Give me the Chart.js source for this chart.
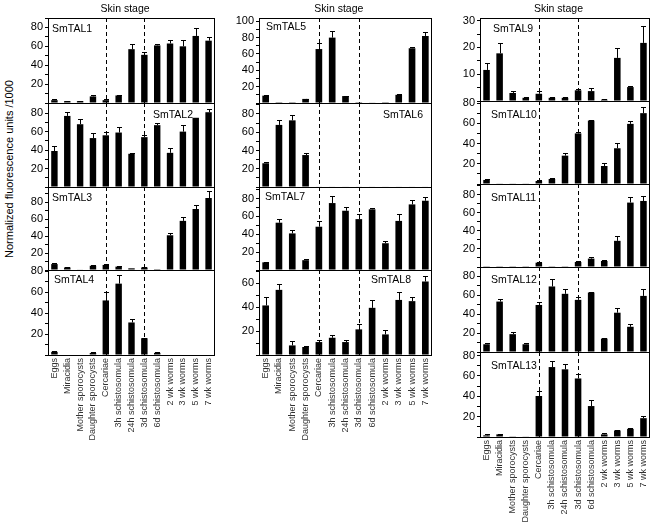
<!DOCTYPE html>
<html><head><meta charset="utf-8">
<script src="https://cdn.jsdelivr.net/npm/chart.js@4"></script>
<style>
html,body{margin:0;padding:0;background:#fff;}
#wrap{position:relative;width:655px;height:528px;overflow:hidden;background:#fff;}
#wrap canvas{position:absolute;}
#ytitle{position:absolute;left:-90px;top:162px;width:200px;height:14px;line-height:14px;text-align:center;
  font:11px "Liberation Sans",Arial,sans-serif;color:#000;transform:rotate(-90deg);transform-origin:100px 7px;white-space:nowrap;}
</style></head>
<body><div id="wrap"><div id="ytitle">Normalized fluorescence units /1000</div></div>
<script>
const categories = ['Eggs','Miracidia','Mother sporocysts','Daughter sporocysts','Cercariae','3h schistosomula','24h schistosomula','3d schistosomula','6d schistosomula','2 wk worms','3 wk worms','5 wk worms','7 wk worms'];
const skinStageTitle = 'Skin stage';
const skinStageBounds = [4, 7];

const smtal1 = [3,2,2,7,3,8,57,51,61,63,60,71,66];
const smtal1Err = [1,0.5,0.5,1,1,1,5,3,2,4,7,8,4];
const smtal2 = [39,77,68,53,56,59,36,54,67,37,60,75,81];
const smtal2Err = [5,4,6,5,4,6,1,2,2,5,7,0,4];
const smtal3 = [7,3,0.5,5,6,4,2,3,1,41,58,72,85];
const smtal3Err = [1,0.5,0,1,1,0.5,0,1,0,3,5,5,8];
const smtal4 = [3,0,0,2,52,68,31,16,2,0,0,0,0];
const smtal4Err = [0.5,0,0,0.5,8,8,3,0.5,0.5,0,0,0,0];
const smtal5 = [9,1,1,5,66,80,8.5,1,0.5,1,10,67,82];
const smtal5Err = [0.5,0,0,0.5,7,8,0.5,0,0,0,0.5,2,5];
const smtal6 = [26,68,73,35,0.5,0.5,0.5,0.5,0.5,0.5,0.5,0.5,0.5];
const smtal6Err = [1.5,5,5.5,2,0,0,0,0,0,0,0,0,0];
const smtal7 = [8.6,53,41,11,48.5,75,66.4,57,68,30,55,73.5,77.6];
const smtal7Err = [0.5,4.5,3.7,1.5,6,8,4.5,5.6,1,2.6,7.5,5,4];
const smtal8 = [41.4,54.4,8,6.7,10.8,14.4,10.8,21.4,39.4,17.2,46,45,61.4];
const smtal8Err = [7,5,3.4,0.5,1.4,2,1.5,4.7,6.7,3.3,7,3.3,5];
const smtal9 = [11.6,17.8,3,1.2,2.7,1.2,1.2,4,3.7,0.5,16.1,5.2,21.7];
const smtal9Err = [2.7,4,0.7,0.2,0.9,0.2,0.2,0.3,1.2,0.2,3.7,0.4,6.4];
const smtal10 = [4,0.6,0.6,0.6,3,5,28,50,62.7,17.8,35.3,59.4,70];
const smtal10Err = [0.5,0,0,0,1,0.7,3,1.6,0.5,2.6,5.6,3.3,6];
const smtal11 = [0.3,0.3,0.3,0.3,4.8,0.3,0.3,5.6,9.3,6.7,29,71.4,73.2];
const smtal11Err = [0,0,0,0,0.5,0,0,0.7,1.9,0.7,5.6,6,5.2];
const smtal12 = [8.2,53.4,18.9,8.2,49.8,69.4,61.6,55.2,63,14.2,41.6,26.7,59.4];
const smtal12Err = [1.4,2.5,2.5,1.8,3.6,7.8,5,2.8,0.5,1,4.6,2.5,7];
const smtal13 = [1.6,2.6,0.3,0.6,40.3,68.7,66.5,57.5,30.4,2.6,6.4,8,18.5];
const smtal13Err = [1,0.7,0,0,4.5,6.4,5.4,4.2,5.8,1.3,0.5,0.7,2.2];

// layout: [left, right, top, bottom] of each plot area, y max, tick steps, label placement
const panels = [
  {name:'SmTAL1', v:smtal1, e:smtal1Err, box:[48,215,18,103], max:90, step:10, lab:20, la:'left', dx:4, dy:11, top:true},
  {name:'SmTAL2', v:smtal2, e:smtal2Err, box:[48,215,103,187], max:91, step:10, lab:20, la:'right', dx:-22, dy:12},
  {name:'SmTAL3', v:smtal3, e:smtal3Err, box:[48,215,187,270], max:98, step:10, lab:20, la:'left', dx:4, dy:11},
  {name:'SmTAL4', v:smtal4, e:smtal4Err, box:[48,215,270,355], max:81, step:10, lab:20, la:'left', dx:6, dy:10, bottom:true},
  {name:'SmTAL5', v:smtal5, e:smtal5Err, box:[259,432,18,103], max:104, step:10, lab:20, la:'left', dx:7, dy:9, top:true},
  {name:'SmTAL6', v:smtal6, e:smtal6Err, box:[259,432,103,187], max:92, step:10, lab:20, la:'right', dx:-9, dy:12},
  {name:'SmTAL7', v:smtal7, e:smtal7Err, box:[259,432,187,270], max:93, step:10, lab:20, la:'left', dx:6, dy:10},
  {name:'SmTAL8', v:smtal8, e:smtal8Err, box:[259,432,270,355], max:71, step:10, lab:20, la:'right', dx:-21, dy:10, bottom:true},
  {name:'SmTAL9', v:smtal9, e:smtal9Err, box:[480,650,18,101], max:31, step:5, lab:10, la:'left', dx:13, dy:11, top:true},
  {name:'SmTAL10', v:smtal10, e:smtal10Err, box:[480,650,101,184], max:82, step:10, lab:20, la:'left', dx:11, dy:14},
  {name:'SmTAL11', v:smtal11, e:smtal11Err, box:[480,650,184,267], max:92, step:10, lab:20, la:'left', dx:11, dy:14},
  {name:'SmTAL12', v:smtal12, e:smtal12Err, box:[480,650,267,352], max:90, step:10, lab:20, la:'left', dx:11, dy:13},
  {name:'SmTAL13', v:smtal13, e:smtal13Err, box:[480,650,352,437], max:83.5, step:10, lab:20, la:'left', dx:11, dy:14, bottom:true}
];

const FONT = '"Liberation Sans", Arial, sans-serif';
const AXIS_W = 40, PAD_TOP = 16, PAD_RIGHT = 10, PAD_BOTTOM = 10, X_H = 100;

const panelPlugin = {
  id: 'panelDecor',
  beforeDatasetsDraw(chart, args, opts) {
    const ctx = chart.ctx, a = chart.chartArea, xs = chart.scales.x;
    ctx.save();
    ctx.strokeStyle = '#000'; ctx.lineWidth = 1; ctx.setLineDash([4, 3]);
    skinStageBounds.forEach(i => {
      const x = Math.round(xs.getPixelForTick(i)) + 0.5;
      ctx.beginPath(); ctx.moveTo(x, a.top); ctx.lineTo(x, a.bottom); ctx.stroke();
    });
    ctx.restore();
  },
  afterDatasetsDraw(chart, args, opts) {
    const p = opts.panel;
    const ctx = chart.ctx, a = chart.chartArea, xs = chart.scales.x, ys = chart.scales.y;
    const meta = chart.getDatasetMeta(0);
    ctx.save();
    ctx.strokeStyle = '#000'; ctx.lineWidth = 1; ctx.setLineDash([]);
    p.v.forEach((val, i) => {
      const err = p.e[i];
      if (!err) return;
      const x = Math.round(meta.data[i].x) + 0.5;
      const y0 = ys.getPixelForValue(val);
      const y1 = Math.round(ys.getPixelForValue(val + err)) + 0.5;
      ctx.beginPath(); ctx.moveTo(x, y0); ctx.lineTo(x, y1);
      ctx.moveTo(x - 2.5, y1); ctx.lineTo(x + 2.5, y1); ctx.stroke();
    });
    // frame
    ctx.strokeRect(a.left + 0.5, a.top + 0.5, a.right - a.left - 1, a.bottom - a.top);
    // gene label
    ctx.fillStyle = '#000'; ctx.font = '10.5px ' + FONT; ctx.textBaseline = 'middle';
    if (p.la === 'left') { ctx.textAlign = 'left'; ctx.fillText(p.name, a.left + p.dx, a.top + p.dy); }
    else { ctx.textAlign = 'right'; ctx.fillText(p.name, a.right + p.dx, a.top + p.dy); }
    if (p.top) {
      const xm = (xs.getPixelForTick(skinStageBounds[0]) + xs.getPixelForTick(skinStageBounds[1])) / 2;
      ctx.textAlign = 'center'; ctx.font = '10.5px ' + FONT;
      ctx.fillText(skinStageTitle, xm, a.top - 9);
    }
    ctx.restore();
  }
};

const wrap = document.getElementById('wrap');
panels.forEach(p => {
  const [L, R, T, B] = p.box;
  const xh = p.bottom ? X_H : 0;
  const pb = p.bottom ? 0 : PAD_BOTTOM;
  const cv = document.createElement('canvas');
  const w = AXIS_W + (R - L) + PAD_RIGHT, h = PAD_TOP + (B - T) + xh + pb;
  cv.width = w; cv.height = h;
  cv.style.left = (L - AXIS_W) + 'px'; cv.style.top = (T - PAD_TOP) + 'px';
  cv.style.width = w + 'px'; cv.style.height = h + 'px';
  wrap.appendChild(cv);
  new Chart(cv, {
    type: 'bar',
    data: { labels: categories, datasets: [{ data: p.v, backgroundColor: '#000', borderWidth: 0, barPercentage: 1, categoryPercentage: 0.5 }] },
    options: {
      responsive: false, animation: false, devicePixelRatio: 1,
      layout: { padding: { top: PAD_TOP, right: PAD_RIGHT, left: 0, bottom: pb } },
      plugins: { legend: { display: false }, tooltip: { enabled: false }, panelDecor: { panel: p } },
      scales: {
        x: {
          display: !!p.bottom,
          grid: { display: false, drawTicks: false },
          border: { display: false },
          ticks: { autoSkip: false, minRotation: 90, maxRotation: 90, padding: 3, color: '#333', font: { family: FONT, size: 9 } },
          afterFit: s => { s.height = xh; }
        },
        y: {
          min: 0, max: p.max,
          grid: { display: true, drawOnChartArea: false, drawTicks: true, tickLength: 3, color: '#000' },
          border: { display: true, color: '#000' },
          ticks: {
            stepSize: p.step, autoSkip: false, includeBounds: false, padding: 2, color: '#000',
            font: { family: FONT, size: 11 },
            callback: v => (v > 0 && Math.abs(v % p.lab) < 1e-6) ? String(v) : ''
          },
          afterFit: s => { s.width = AXIS_W; }
        }
      }
    },
    plugins: [panelPlugin]
  });
});
</script>
</body></html>
